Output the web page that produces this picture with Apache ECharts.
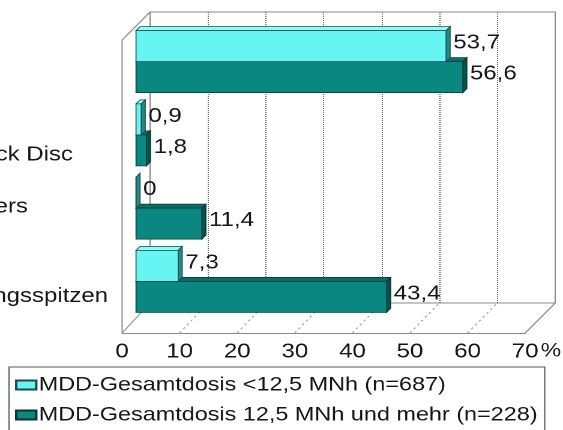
<!DOCTYPE html>
<html>
<head>
<meta charset="utf-8">
<script src="https://cdn.jsdelivr.net/npm/echarts@6/dist/echarts.min.js"></script>
<style>
  html, body { margin: 0; padding: 0; background: #fff; overflow: hidden; width: 563px; height: 430px; }
  /* the chart is laid out 469px wide and stretched to the full 563px */
  #chart { position: absolute; left: 0; top: 0; width: 469px; height: 430px; transform-origin: 0 0; transform: scaleX(1.2004); }
</style>
</head>
<body>
<div id="chart"></div>
<script>
// ---- data ----
const categories = ['', 'ck Disc', 'ers', 'ngsspitzen'];
const seriesNames = [
  'MDD-Gesamtdosis <12,5 MNh (n=687)',
  'MDD-Gesamtdosis 12,5 MNh und mehr (n=228)'
];
const lowDose = [53.7, 0.9, 0, 7.3];
const highDose = [56.6, 1.8, 11.4, 43.4];
const axisMin = 0;
const axisMax = 70;
const axisStep = 10;
const axisUnit = '%';

// ---- styling ----
const FONT = '"Liberation Sans", Arial, sans-serif';
const TEXT = '#161616';
const FRAME = '#8a8a8a';
const palette = [
  { front: '#66f5f2', top: '#8ffbf8', side: '#1f8c88', edge: '#1b4b4a' },
  { front: '#0b8781', top: '#0a6d69', side: '#05524f', edge: '#0c3533' }
];
const DEPTH = [3.4, -4];          // extrusion of each bar (x, y)
const BAR_SHARE = 0.423;          // bar thickness as share of a category band
const catLabelRight = [0, 60.8, 23.3, 90];
const catLabelDy = [0, 20, -1, 15];

const fmt = v => (v === 0 ? '0' : v.toFixed(1).replace('.', ','));

function barRenderer(groupIdx) {
  return function (params, api) {
    const cat = api.value(0);
    const v = api.value(1);
    const base = api.coord([0, cat]);
    const end = api.coord([v, cat]);
    const band = api.size([0, 1])[1];
    const t = band * BAR_SHARE;
    const y0 = groupIdx === 0 ? base[1] - t : base[1];
    const x0 = base[0], x1 = end[0];
    const dx = DEPTH[0], dy = DEPTH[1];
    const c = palette[groupIdx];
    const lw = 0.8;
    return {
      type: 'group',
      children: [
        { type: 'polygon', shape: { points: [[x0, y0], [x1, y0], [x1 + dx, y0 + dy], [x0 + dx, y0 + dy]] },
          style: { fill: c.top, stroke: c.edge, lineWidth: lw } },
        { type: 'polygon', shape: { points: [[x1, y0], [x1, y0 + t], [x1 + dx, y0 + t + dy], [x1 + dx, y0 + dy]] },
          style: { fill: c.side, stroke: c.edge, lineWidth: lw } },
        { type: 'rect', shape: { x: x0, y: y0, width: x1 - x0, height: t },
          style: { fill: c.front, stroke: c.edge, lineWidth: lw } },
        { type: 'text', x: x1 + 6, y: y0 + t / 2 - 3,
          style: { text: fmt(v), fill: TEXT, fontSize: 20, fontFamily: FONT, align: 'left', verticalAlign: 'middle' } }
      ]
    };
  };
}

const hiddenValueAxis = (gridIndex, min, max) => ({
  gridIndex, type: 'value', min, max,
  axisLine: { show: false }, axisTick: { show: false }, axisLabel: { show: false }, splitLine: { show: false }
});

const chart = echarts.init(document.getElementById('chart'), null, { renderer: 'canvas', devicePixelRatio: 2 });

chart.setOption({
  animation: false,
  backgroundColor: '#ffffff',
  grid: [
    // back wall
    { left: 125, top: 12, width: 337.5, height: 291, show: true, borderColor: FRAME, borderWidth: 1, backgroundColor: 'transparent' },
    // front edge of the floor
    { left: 101.7, top: 40, width: 335.8, height: 293, show: false },
    // plane of the bars
    { left: 113.3, top: 25, width: 336.7, height: 293, show: false }
  ],
  xAxis: [
    {
      gridIndex: 0, type: 'value', min: axisMin, max: axisMax, interval: axisStep,
      axisLine: { show: false }, axisTick: { show: false }, axisLabel: { show: false },
      splitLine: { show: true, showMinLine: false, showMaxLine: false, lineStyle: { color: '#666', type: 'dotted', width: 1 } }
    },
    {
      gridIndex: 1, type: 'value', min: axisMin, max: axisMax, interval: axisStep,
      axisLine: { show: true, lineStyle: { color: FRAME, width: 1 } },
      axisTick: { show: false },
      axisLabel: { show: true, fontSize: 20, fontFamily: FONT, color: TEXT, margin: 9, verticalAlign: 'top' },
      splitLine: { show: false }
    },
    hiddenValueAxis(2, axisMin, axisMax)
  ],
  yAxis: [
    hiddenValueAxis(0, 0, 1),
    hiddenValueAxis(1, 0, 1),
    {
      gridIndex: 2, type: 'category', data: categories, inverse: true,
      axisLine: { show: false }, axisTick: { show: false }, axisLabel: { show: false }, splitLine: { show: false }
    }
  ],
  legend: {
    orient: 'vertical', left: 7.5, top: 367, height: 70,
    padding: [8, 6, 10, 5], itemGap: 10, itemWidth: 16.7, itemHeight: 9,
    icon: 'rect', borderColor: '#5a5a5a', borderWidth: 1, selectedMode: false,
    textStyle: { fontSize: 19.5, lineHeight: 20, color: TEXT, fontFamily: FONT, padding: [0, 0, 0, -3] },
    data: seriesNames
  },
  series: [
    {
      name: seriesNames[0], type: 'custom', xAxisIndex: 2, yAxisIndex: 2, z: 5, clip: false,
      itemStyle: { color: palette[0].front, borderColor: palette[0].edge, borderWidth: 0.8 },
      encode: { x: 1, y: 0 },
      data: lowDose.map((v, i) => [i, v]),
      renderItem: barRenderer(0)
    },
    {
      name: seriesNames[1], type: 'custom', xAxisIndex: 2, yAxisIndex: 2, z: 4, clip: false,
      itemStyle: { color: palette[1].front, borderColor: palette[1].edge, borderWidth: 0.8 },
      encode: { x: 1, y: 0 },
      data: highDose.map((v, i) => [i, v]),
      renderItem: barRenderer(1)
    }
  ]
});

// frame edges, floor lines, category texts and the unit sign
const front = p => chart.convertToPixel({ gridIndex: 1 }, p);
const back = p => chart.convertToPixel({ gridIndex: 0 }, p);
const line = (a, b, style) => ({ type: 'line', z: 1, silent: true, shape: { x1: a[0], y1: a[1], x2: b[0], y2: b[1] }, style });
const solid = { stroke: FRAME, lineWidth: 1 };
const floorDash = { stroke: '#9a9a9a', lineWidth: 1, lineDash: [2, 3] };

const graphics = [
  line(front([axisMin, 0]), front([axisMin, 1]), solid),
  line(front([axisMin, 1]), back([axisMin, 1]), solid),
  line(front([axisMin, 0]), back([axisMin, 0]), solid),
  line(front([axisMax, 0]), back([axisMax, 0]), solid)
];
for (let v = axisMin + axisStep; v < axisMax; v += axisStep) {
  graphics.push(line(front([v, 0]), back([v, 0]), floorDash));
}
categories.forEach((name, i) => {
  if (!name) return;
  const p = chart.convertToPixel({ gridIndex: 2 }, [0, i]);
  graphics.push({
    type: 'text', z: 6, silent: true, x: catLabelRight[i], y: p[1] + catLabelDy[i],
    style: { text: name, fill: TEXT, fontSize: 20, fontFamily: FONT, align: 'right', verticalAlign: 'middle' }
  });
});
const pMax = front([axisMax, 0]);
graphics.push({
  type: 'text', z: 6, silent: true, x: pMax[0] + 13, y: pMax[1] + 9,
  style: { text: axisUnit, fill: TEXT, fontSize: 19, fontFamily: FONT, align: 'left', verticalAlign: 'top' }
});

chart.setOption({ graphic: graphics });
</script>
</body>
</html>
